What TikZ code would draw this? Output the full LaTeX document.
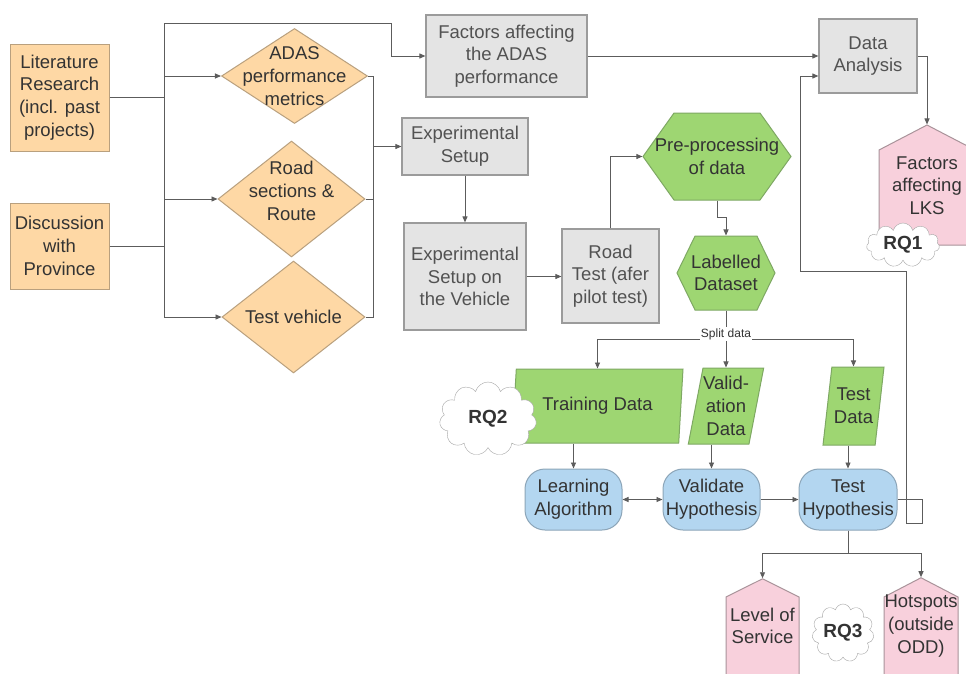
\documentclass[tikz,border=0pt]{standalone}
\usepackage{fontspec}
\setmainfont{Liberation Sans}
\usetikzlibrary{shapes.geometric,shapes.symbols,arrows.meta,calc}

\definecolor{orangefill}{HTML}{FED8A5}
\definecolor{orangeline}{HTML}{B9A07E}
\definecolor{greyfill}{HTML}{E4E4E4}
\definecolor{greyline}{HTML}{9B9B9B}
\definecolor{greenfill}{HTML}{9ED672}
\definecolor{greenline}{HTML}{7EA863}
\definecolor{bluefill}{HTML}{B3D6F0}
\definecolor{blueline}{HTML}{8CA5B8}
\definecolor{pinkfill}{HTML}{F8D0DC}
\definecolor{pinkline}{HTML}{A9939A}
\definecolor{wiregrey}{HTML}{5C5C5C}
\definecolor{ink}{HTML}{333333}

\begin{document}
\begin{tikzpicture}[x=1pt,y=-1pt,
    txt/.style={font=\fontsize{18.5}{22.7}\selectfont, text=ink, align=center},
    inbox/.style={txt, rectangle, draw=orangeline, fill=orangefill, line width=1pt, inner sep=0pt},
    dia/.style={diamond, draw=orangeline, fill=orangefill, line width=1pt, inner sep=0pt},
    greybox/.style={txt, rectangle, draw=greyline, fill=greyfill, line width=1.2pt, inner sep=0pt, text=ink!85},
    hexa/.style={signal, signal from=nowhere, signal to=west and east, draw=greenline, fill=greenfill, line width=1pt, inner sep=0pt},
    slant/.style={txt, trapezium, trapezium left angle=76, trapezium right angle=104, trapezium stretches body=true, draw=greenline, fill=greenfill, line width=1pt, inner sep=0pt},
    stepbox/.style={txt, rectangle, rounded corners=20pt, draw=blueline, fill=bluefill, line width=1pt, inner sep=0pt},
    result/.style={signal, signal from=nowhere, signal to=north, signal pointer angle=125, draw=pinkline, fill=pinkfill, line width=1pt, inner sep=0pt},
    rq/.style={cloud, cloud puffs=11, cloud ignores aspect, draw=gray!70, fill=white, inner sep=0pt, font=\fontsize{19}{22}\selectfont\bfseries, text=ink},
    link/.style={draw=wiregrey, line width=0.9pt},
    arr/.style={link, -{Triangle[length=6pt,width=5pt]}},
    arrtwo/.style={link, {Triangle[length=6pt,width=5pt]}-{Triangle[length=6pt,width=5pt]}},
  ]
  \useasboundingbox (0,0) rectangle (966,673);
  \clip (0,0) rectangle (966,673);
  \fill[white] (0,0) rectangle (966,673);

  % sources
  \node[inbox, minimum width=99pt, minimum height=107pt] (lit) at (59.5,97.5) {Literature\\Research\\(incl. past\\projects)};
  \node[inbox, minimum width=99pt, minimum height=86pt] (disc) at (59.5,246) {Discussion\\with\\Province};

  % decisions
  \node[dia, minimum width=146pt, minimum height=95pt, label={[txt]center:ADAS\\performance\\metrics}] (adas) at (294.5,76) {};
  \node[dia, minimum width=147pt, minimum height=116pt, label={[txt,yshift=8pt]center:Road\\sections \&\\Route}] (road) at (291.5,199) {};
  \node[dia, minimum width=143pt, minimum height=112pt, label={[txt]center:Test vehicle}] (veh) at (293.5,317) {};

  % process boxes
  \node[greybox, minimum width=161pt, minimum height=82pt] (fac) at (506.5,56) {Factors affecting\\the ADAS\\performance};
  \node[greybox, minimum width=126pt, minimum height=57pt] (exp) at (465,146.5) {Experimental\\Setup};
  \node[greybox, minimum width=122pt, minimum height=107pt] (expv) at (465,276.5) {Experimental\\Setup on\\the Vehicle};
  \node[greybox, minimum width=97pt, minimum height=94pt] (rtest) at (610.5,276) {Road\\Test (afer\\pilot test)};
  \node[greybox, minimum width=98pt, minimum height=74pt] (da) at (868,56) {Data\\Analysis};

  % data
  \node[hexa, signal pointer angle=109, minimum width=148pt, minimum height=87pt, label={[txt]center:Pre-processing\\of data}] (pre) at (717,156.5) {};
  \node[hexa, signal pointer angle=128, minimum width=98pt, minimum height=74pt, label={[txt]center:Labelled\\Dataset}] (lab) at (726,273) {};
  \node[slant, minimum width=171pt, minimum height=74pt] (train) at (597.5,406) {Training Data};
  \node[slant, minimum width=74pt, minimum height=76pt] (valid) at (726,406) {Valid-\\ation\\Data};
  \node[slant, minimum width=61pt, minimum height=78pt] (testd) at (853.5,406) {Test\\Data};

  % model steps
  \node[stepbox, minimum width=97pt, minimum height=61pt] (learn) at (573.5,499.5) {Learning\\Algorithm};
  \node[stepbox, minimum width=97pt, minimum height=61pt] (vhyp) at (711.5,499.5) {Validate\\Hypothesis};
  \node[stepbox, minimum width=98pt, minimum height=61pt] (thyp) at (848,499.5) {Test\\Hypothesis};

  % results
  \node[result, minimum width=96pt, minimum height=95pt, label={[txt,yshift=12pt]center:Factors\\affecting\\LKS}] (lks) at (927,197.5) {};
  \node[result, signal pointer angle=127, minimum width=73pt, minimum height=82pt, label={[txt,yshift=12pt]center:Level of\\Service}] (los) at (762.5,638) {};
  \node[result, minimum width=74pt, minimum height=82pt, label={[txt,yshift=12pt]center:Hotspots\\(outside\\ODD)}] (hot) at (921,638) {};

  % research questions
  \node[rq, minimum width=73pt, minimum height=44pt] (rq1) at (903,245) {RQ1};
  \node[rq, minimum width=97pt, minimum height=74pt] (rq2) at (488,419) {RQ2};
  \node[rq, minimum width=62pt, minimum height=58pt] (rq3) at (843,633) {RQ3};

  \coordinate (busL) at (164,23);
  \coordinate (topjog) at (391,23);
  \coordinate (busR) at (373,76);
  \coordinate (splitpt) at (726,339);
  \coordinate (fbk) at (800,271);

  % left bus
  \draw[link] (lit) -- (lit -| busL);
  \draw[link] (disc) -- (disc -| busL);
  \draw[arr] (busL) |- (veh);
  \draw[arr] (busL |- adas) -- (adas);
  \draw[arr] (busL |- road) -- (road);
  \draw[arr] (busL) -- (topjog) |- (fac);

  % right bus
  \draw[link] (adas) -| (busR |- veh) -- (veh);
  \draw[link] (road) -- (road -| busR);
  \draw[arr] (busR |- exp) -- (exp);

  \draw[arr] (fac) -- (da);
  \draw[arr] (exp) -- (expv);
  \draw[arr] (expv.east) -- (expv.east -| rtest.west);
  \draw[arr] (rtest) |- (pre);
  \draw[arr] (pre.south) -- ++(0,17) -| (lab);

  % split
  \draw[link] (lab) -- (splitpt);
  \draw[arr] (splitpt) -| (train);
  \draw[arr] (splitpt) -- (valid);
  \draw[arr] (splitpt) -| (testd);
  \node[font=\fontsize{12}{14}\selectfont, text=ink, fill=white, inner sep=1pt] (split) at (726,334) {Split data};

  \draw[arr] (learn |- train.south) -- (learn);
  \draw[arr] (vhyp |- valid.south) -- (vhyp);
  \draw[arr] (thyp |- testd.south) -- (thyp);
  \draw[arrtwo] (learn) -- (vhyp);
  \draw[arr] (vhyp) -- (thyp);

  % feedback to analysis
  \draw[arr] (thyp.east) -- ++(25,0) -- ++(0,24) -- ++(-16,0) |- (fbk) |- ($(da.west)+(0,20)$);
  \draw[arr] (da) -| (lks);
  \draw[arr] (thyp.south) -- ++(0,23) -| (los);
  \draw[arr] (thyp.south) -- ++(0,23) -| (hot);
\end{tikzpicture}
\end{document}
